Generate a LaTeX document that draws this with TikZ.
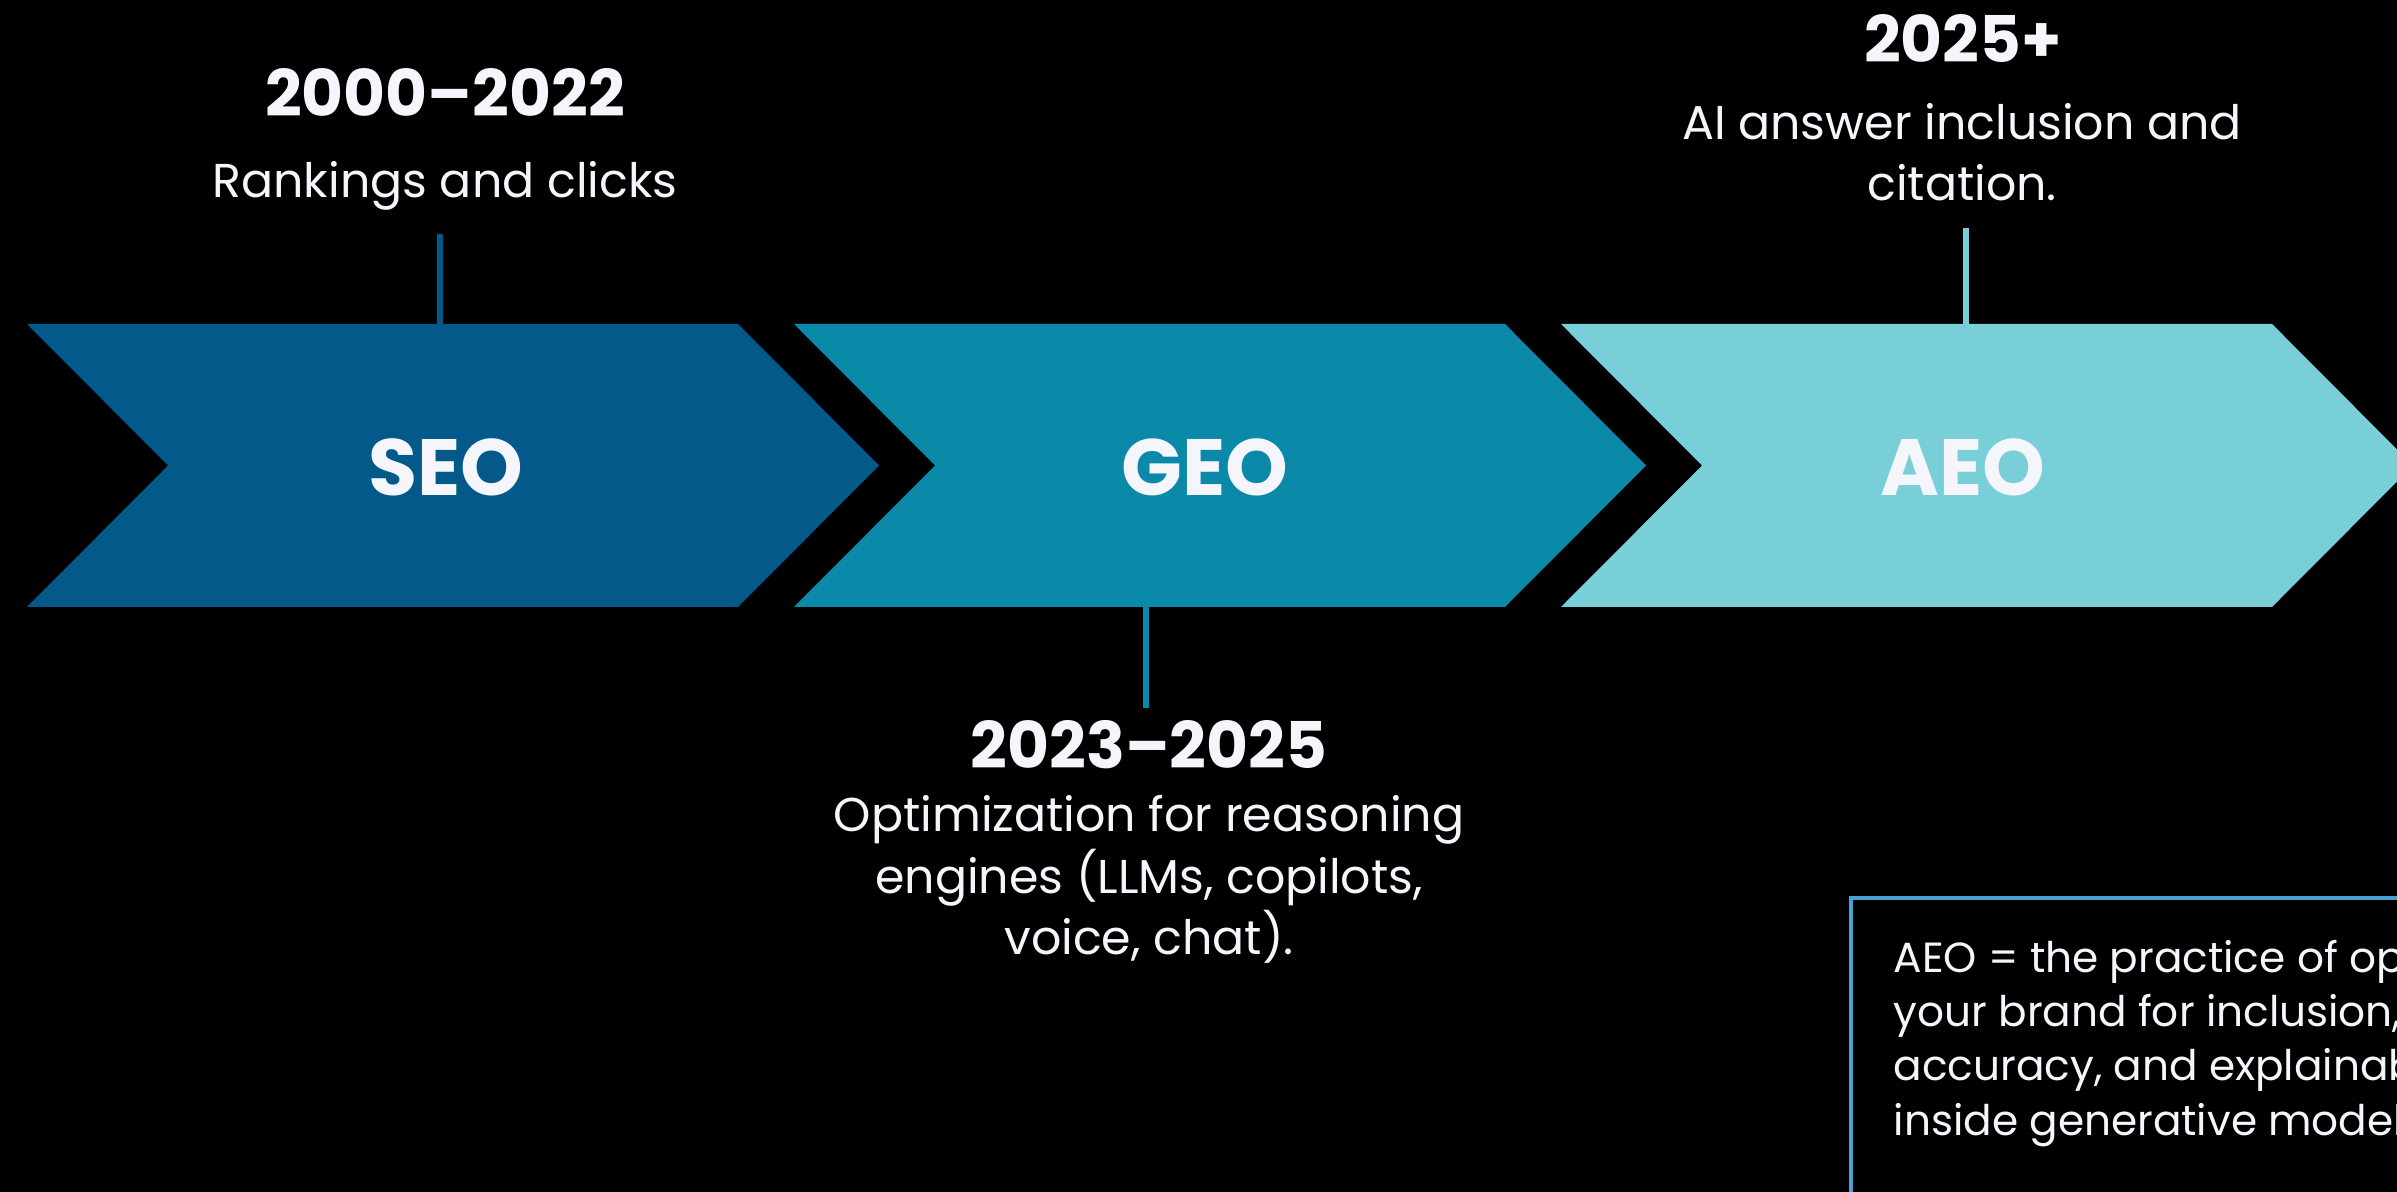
\documentclass[tikz,border=0pt]{standalone}
\usepackage{fontspec}
\setmainfont{Poppins}
\definecolor{seoblue}{HTML}{03598A}
\definecolor{geoteal}{HTML}{0A89A8}
\definecolor{aeocyan}{HTML}{78CFD8}
\definecolor{boxblue}{HTML}{4A9FD4}
\definecolor{txt}{HTML}{F4F6FB}
\begin{document}
\begin{tikzpicture}[x=0.01cm, y=-0.01cm,
  year/.style={font=\bfseries\fontsize{18.3}{22}\selectfont, text=txt, inner sep=0, anchor=base},
  desc/.style={font=\fontsize{13.5}{17.6}\selectfont, text=txt, inner sep=0, align=center, anchor=base},
  tag/.style={font=\bfseries\fontsize{22.7}{27}\selectfont, text=txt, inner sep=0},
  tick/.style={line width=1.6pt}]
\useasboundingbox (0,0) rectangle (2397,1192);
\clip (0,0) rectangle (2397,1192);
\fill[black] (0,0) rectangle (2397,1192);
% chevrons
\fill[seoblue] (27,324) -- (738,324) -- (879,465.5) -- (738,607) -- (27,607) -- (168,465.5) -- cycle;
\fill[geoteal] (794,324) -- (1505,324) -- (1646,465.5) -- (1505,607) -- (794,607) -- (935,465.5) -- cycle;
\fill[aeocyan] (1561,324) -- (2272,324) -- (2413,465.5) -- (2272,607) -- (1561,607) -- (1702,465.5) -- cycle;
\node[tag] (S) at (446,467) {SEO};
\node[tag] (G) at (1205,467) {GEO};
\node[tag] (A) at (1963,467) {AEO};
% SEO
\node[year] (S1) at (445,117) {2000–2022};
\node[desc] (S2) at (445,198) {Rankings and clicks};
\coordinate (s0) at (440,234);
\coordinate (s1) at (440,324);
\draw[tick, seoblue] (s0) -- (s1);
% GEO (base of a multi-line node = its last line)
\coordinate (g0) at (1146,607);
\coordinate (g1) at (1146,708);
\draw[tick, geoteal] (g0) -- (g1);
\node[year] (G1) at (1149,769) {2023–2025};
\node[desc] (G2) at (1149,955) {Optimization for reasoning\\engines (LLMs, copilots,\\voice, chat).};
% AEO
\node[year] (A1) at (1963,63) {2025+};
\node[desc] (A2) at (1962,201) {AI answer inclusion and\\citation.};
\coordinate (a0) at (1966,228);
\coordinate (a1) at (1966,324);
\draw[tick, aeocyan] (a0) -- (a1);
% definition box
\draw[boxblue, line width=4.5pt*0.2845] (1851,898) rectangle (2600,1400);
\node[font=\fontsize{12}{15.4}\selectfont, text=txt, inner sep=0, align=left, anchor=base west] (D) at (1893,1135)
  {AEO = the practice of optimizing\\your brand for inclusion,\\accuracy, and explainability\\inside generative models.};
\end{tikzpicture}
\end{document}
